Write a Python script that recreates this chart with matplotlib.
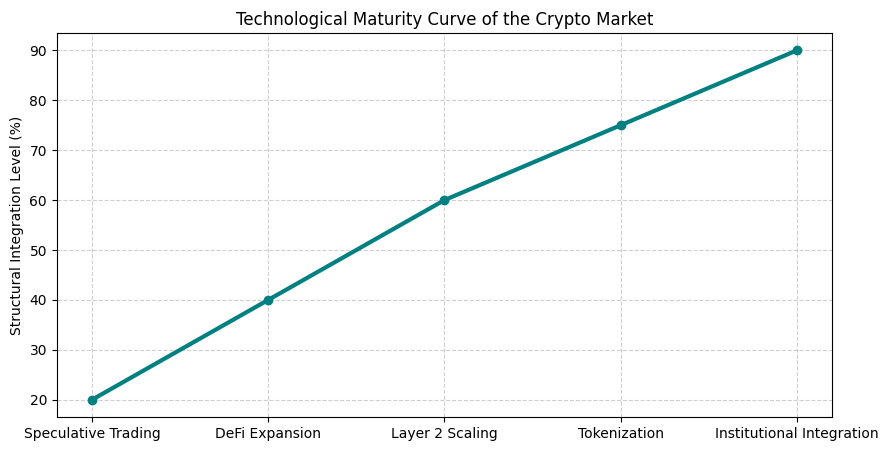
import matplotlib
matplotlib.use("Agg")
import matplotlib.pyplot as plt

#data
stages = ["Speculative Trading", "DeFi Expansion", "Layer 2 Scaling", "Tokenization", "Institutional Integration"]
integration_level = [20, 40, 60, 75, 90]

fig = plt.figure(figsize=(8.88, 4.51), dpi=100)
ax = fig.add_subplot(111)
fig.subplots_adjust(left=0.064, right=0.937, top=0.927, bottom=0.075)

ax.plot(stages, integration_level, marker='o', color='teal', linewidth=3)
ax.set_title("Technological Maturity Curve of the Crypto Market")
ax.set_ylabel("Structural Integration Level (%)")
ax.grid(True, linestyle='--', alpha=0.6)

plt.savefig("out.png", dpi=100)
